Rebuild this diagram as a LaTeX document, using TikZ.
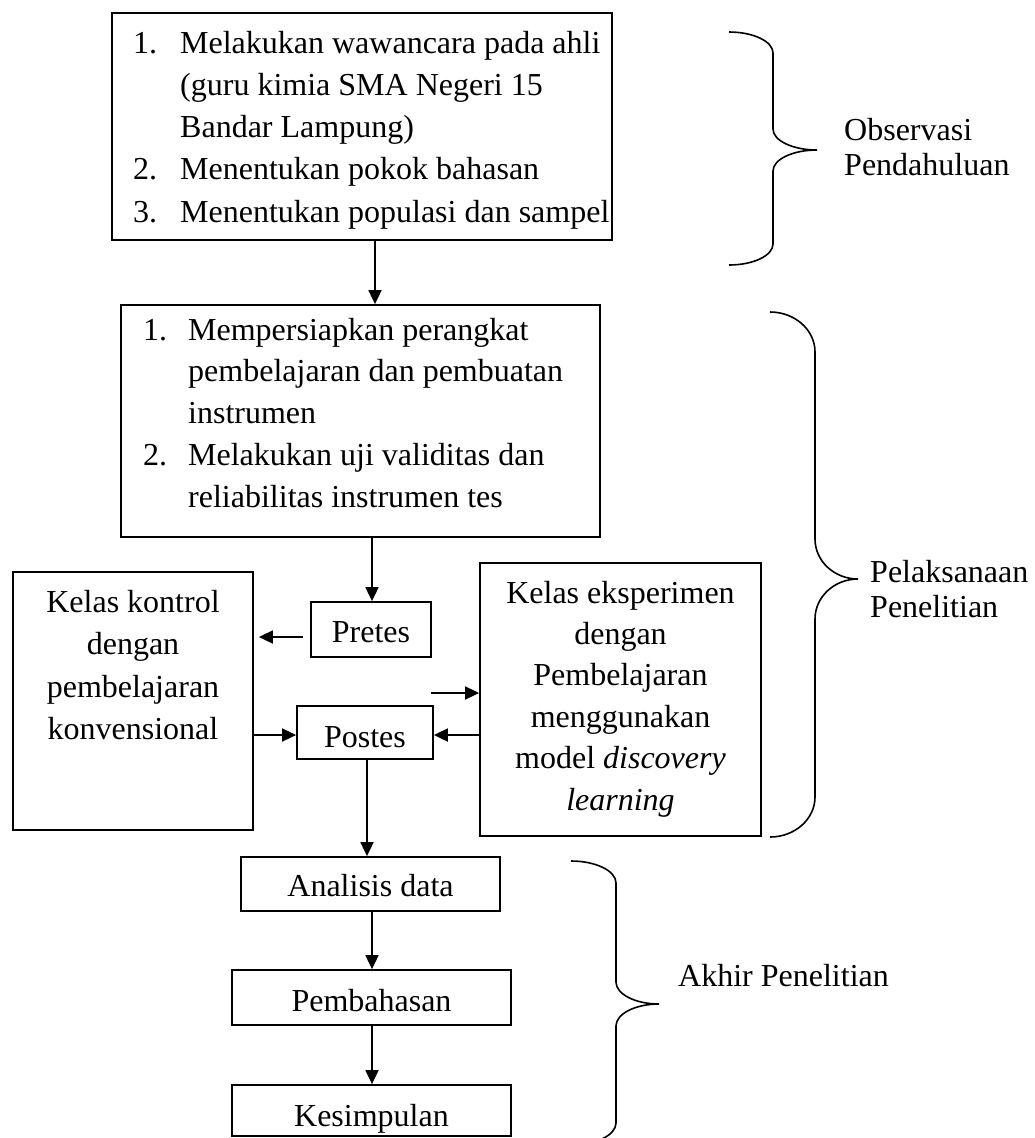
\documentclass[tikz,border=0pt]{standalone}
\usepackage{fontspec}
\setmainfont{Liberation Serif}
\usetikzlibrary{arrows.meta}
\newcommand\mybrace[7]{% L V P T M B r
 \draw[brc] (#1,#4) .. controls ({#1+0.552*(#2-#1)},#4) and (#2,{#4+0.448*#7}) .. (#2,{#4+#7})
   -- (#2,{#5-#7}) .. controls (#2,{#5-0.448*#7}) and ({#3-0.552*(#3-#2)},#5) .. (#3,#5)
   .. controls ({#3-0.552*(#3-#2)},#5) and (#2,{#5+0.448*#7}) .. (#2,{#5+#7})
   -- (#2,{#6-#7}) .. controls (#2,{#6-0.448*#7}) and ({#1+0.552*(#2-#1)},#6) .. (#1,#6);}
\begin{document}
\begin{tikzpicture}[x=1pt,y=-1pt,
  box/.style={draw, line width=1.8pt, inner sep=0pt},
  arr/.style={draw, line width=1.8pt, -{Triangle[length=14pt,width=13pt]}},
  brc/.style={draw, line width=1.6pt},
  txt/.style={inner sep=0pt, font=\fontsize{32}{42}\selectfont},
]
\useasboundingbox[fill=white] (0,0) rectangle (1034,1138);

% boxes
\node[box, minimum width=500pt, minimum height=227pt] (b1) at (362,126.5) {};
\node[box, minimum width=479pt, minimum height=232pt] (b2) at (360.5,421) {};
\node[box, minimum width=120pt, minimum height=55pt] (pretes) at (371,629.5) {};
\node[box, minimum width=240pt, minimum height=258pt] (kontrol) at (133,701) {};
\node[box, minimum width=281pt, minimum height=273pt] (eksp) at (620.5,699.5) {};
\node[box, minimum width=136pt, minimum height=53pt] (postes) at (365,732.5) {};
\node[box, minimum width=259pt, minimum height=54pt] (analisis) at (370.5,884) {};
\node[box, minimum width=279pt, minimum height=55pt] (bahas) at (371.5,997.5) {};
\node[box, minimum width=279pt, minimum height=51pt] (simpul) at (371.5,1110.5) {};

% texts
\node[txt, anchor=base west] (t1) at (133,53) {\fontsize{32}{42.25}\selectfont\begin{tabular}[t]{@{}p{47pt}@{}l@{}}1. & Melakukan wawancara pada ahli\\ & (guru kimia SMA Negeri 15\\ & Bandar Lampung)\\ 2. & Menentukan pokok bahasan\\ 3. & Menentukan populasi dan sampel\end{tabular}};
\node[txt, anchor=base west] (t2) at (143,340) {\fontsize{32}{41.75}\selectfont\begin{tabular}[t]{@{}p{45pt}@{}l@{}}1. & Mempersiapkan perangkat\\ & pembelajaran dan pembuatan\\ & instrumen\\ 2. & Melakukan uji validitas dan\\ & reliabilitas instrumen tes\end{tabular}};
\node[txt, anchor=base] (tpre) at (371,642) {Pretes};
\node[txt, anchor=base] (tkon) at (133,612) {\fontsize{32}{42.6}\selectfont\begin{tabular}[t]{@{}c@{}}Kelas kontrol\\ dengan\\ pembelajaran\\ konvensional\end{tabular}};
\node[txt, anchor=base] (teks) at (620.5,603) {\fontsize{32}{41.4}\selectfont\begin{tabular}[t]{@{}c@{}}Kelas eksperimen\\ dengan\\ Pembelajaran\\ menggunakan\\ model \textit{discovery}\\ \textit{learning}\end{tabular}};
\node[txt, anchor=base] (tpos) at (365,747) {Postes};
\node[txt, anchor=base] (tana) at (370.5,896) {Analisis data};
\node[txt, anchor=base] (tbah) at (371.5,1011) {Pembahasan};
\node[txt, anchor=base] (tsim) at (371.5,1126) {Kesimpulan};

% labels
\node[txt, anchor=base west] (lobs) at (844,140) {\fontsize{32}{35}\selectfont\begin{tabular}[t]{@{}l@{}}Observasi\\ Pendahuluan\end{tabular}};
\node[txt, anchor=base west] (lpel) at (870,582) {\fontsize{32}{35}\selectfont\begin{tabular}[t]{@{}l@{}}Pelaksanaan\\ Penelitian\end{tabular}};
\node[txt, anchor=base west] (lakh) at (678,986) {Akhir Penelitian};

% braces
\mybrace{729}{773}{817}{32}{150}{265}{21}
\mybrace{770}{815}{858}{312}{579}{837}{40}
\mybrace{571}{616}{659}{861}{1004}{1145}{22}

% helper coordinates
\coordinate (x375) at (375,0);
\coordinate (x372) at (372,0);
\coordinate (x367) at (367,0);
\coordinate (y637) at (0,637);
\coordinate (y735) at (0,735);
\coordinate (fa) at (431,693);

% connectors
\draw[arr] (b1.south -| x375) -- (b2.north -| x375);
\draw[arr] (b2.south -| x372) -- (pretes.north -| x372);
\draw[arr, shorten <=7pt, shorten >=5pt] (pretes.west |- y637) -- (kontrol.east |- y637);
\draw[arr] (fa) -- (eksp.west |- fa);
\draw[arr] (eksp.west |- y735) -- (postes.east |- y735);
\draw[arr] (kontrol.east |- y735) -- (postes.west |- y735);
\draw[arr] (postes.south -| x367) -- (analisis.north -| x367);
\draw[arr] (analisis.south -| x372) -- (bahas.north -| x372);
\draw[arr] (bahas.south -| x372) -- (simpul.north -| x372);
\end{tikzpicture}
\end{document}
